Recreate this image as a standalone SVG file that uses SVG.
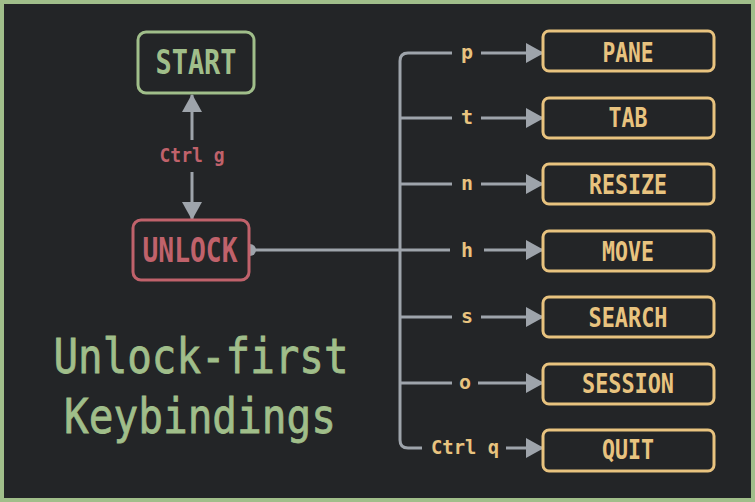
<svg xmlns="http://www.w3.org/2000/svg" width="755" height="502" viewBox="0 0 755 502">
<style>
.box{fill:#232527;stroke-width:3}
.g{stroke:#a0be8a;fill:none}
.r{stroke:#c0626b}
.y{stroke:#e8c37f}
.t{font-family:"DejaVu Sans Mono","Liberation Mono",monospace;text-anchor:middle}
.nt{font-size:33px;font-weight:bold}
.st{font-size:26px;font-weight:bold;fill:#e8c37f}
.lbl{font-size:20px;font-weight:bold;fill:#e8c37f}
.ttl{font-size:48px;fill:#a0be8a;stroke:#a0be8a;stroke-width:0.8}
.ln{stroke:#9ea4ab;stroke-width:3;fill:none}
</style>
<defs>
<marker id="ah" markerUnits="userSpaceOnUse" markerWidth="18" markerHeight="20" refX="17" refY="10" orient="auto">
<path d="M0,0 L18,10 L0,20 Z" fill="#9ea4ab"/>
</marker>
</defs>
<rect x="0" y="0" width="755" height="502" fill="#232527"/>
<rect x="2" y="2" width="751" height="498" fill="none" stroke="#a0be8a" stroke-width="4"/>

<g id="connectors">
<line class="ln" x1="192" y1="140" x2="192" y2="95" marker-end="url(#ah)"/>
<line class="ln" x1="192" y1="172" x2="192" y2="219" marker-end="url(#ah)"/>
<text class="t" x="192" y="162" style="font-size:19px;font-weight:bold;fill:#c0626b" textLength="65" lengthAdjust="spacingAndGlyphs">Ctrl g</text>
<circle cx="250" cy="250" r="6" fill="#9ea4ab"/>
<path class="ln" d="M250 250 H450"/>
<path class="ln" d="M452 53 H408 Q400 53 400 61 V440 Q400 448 408 448 H422"/>
<path class="ln" d="M400 118 H452 M400 184 H452 M400 317 H452 M400 383 H452"/>
<text class="t lbl" x="467" y="59">p</text>
<text class="t lbl" x="467" y="124">t</text>
<text class="t lbl" x="467" y="190">n</text>
<text class="t lbl" x="467" y="257">h</text>
<text class="t lbl" x="467" y="323">s</text>
<text class="t lbl" x="465" y="389">o</text>
<text class="t lbl" x="465" y="454" textLength="68" lengthAdjust="spacingAndGlyphs">Ctrl q</text>
<line class="ln" x1="481" y1="53" x2="543" y2="53" marker-end="url(#ah)"/>
<line class="ln" x1="481" y1="118" x2="543" y2="118" marker-end="url(#ah)"/>
<line class="ln" x1="481" y1="184" x2="543" y2="184" marker-end="url(#ah)"/>
<line class="ln" x1="484" y1="250" x2="543" y2="250" marker-end="url(#ah)"/>
<line class="ln" x1="481" y1="317" x2="543" y2="317" marker-end="url(#ah)"/>
<line class="ln" x1="478" y1="383" x2="543" y2="383" marker-end="url(#ah)"/>
<line class="ln" x1="506" y1="448" x2="543" y2="448" marker-end="url(#ah)"/>
</g>

<g id="start">
<rect class="box g" x="138" y="32" width="116" height="61" rx="8"/>
<text class="t nt" x="196" y="74" fill="#a0be8a" textLength="81" lengthAdjust="spacingAndGlyphs">START</text>
</g>
<g id="unlock">
<rect class="box r" x="133" y="220" width="116" height="60" rx="8"/>
<text class="t nt" x="190" y="262" fill="#c0626b" textLength="95" lengthAdjust="spacingAndGlyphs">UNLOCK</text>
</g>

<g id="pane"><rect class="box y" x="543" y="31" width="171" height="40" rx="6"/><text class="t st" x="628" y="62" textLength="51" lengthAdjust="spacingAndGlyphs">PANE</text></g>
<g id="tab"><rect class="box y" x="543" y="98" width="171" height="40" rx="6"/><text class="t st" x="628" y="127" textLength="39" lengthAdjust="spacingAndGlyphs">TAB</text></g>
<g id="resize"><rect class="box y" x="543" y="164" width="171" height="40" rx="6"/><text class="t st" x="628" y="194" textLength="78" lengthAdjust="spacingAndGlyphs">RESIZE</text></g>
<g id="move"><rect class="box y" x="543" y="231" width="171" height="40" rx="6"/><text class="t st" x="628" y="261" textLength="52" lengthAdjust="spacingAndGlyphs">MOVE</text></g>
<g id="search"><rect class="box y" x="543" y="297" width="171" height="40" rx="6"/><text class="t st" x="628" y="327" textLength="79" lengthAdjust="spacingAndGlyphs">SEARCH</text></g>
<g id="session"><rect class="box y" x="543" y="364" width="171" height="40" rx="6"/><text class="t st" x="628" y="393" textLength="92" lengthAdjust="spacingAndGlyphs">SESSION</text></g>
<g id="quit"><rect class="box y" x="543" y="430" width="171" height="41" rx="6"/><text class="t st" x="628" y="459" textLength="52" lengthAdjust="spacingAndGlyphs">QUIT</text></g>

<g id="title">
<text class="t ttl" x="201" y="373" textLength="295" lengthAdjust="spacingAndGlyphs">Unlock-first</text>
<text class="t ttl" x="200" y="433" textLength="272" lengthAdjust="spacingAndGlyphs">Keybindings</text>
</g>
</svg>
